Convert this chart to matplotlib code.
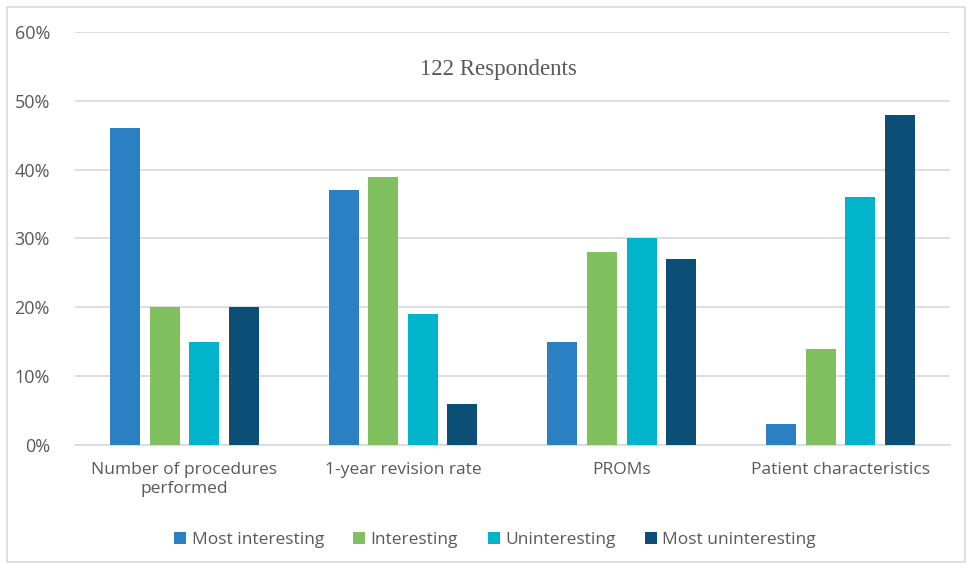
import numpy as np
import matplotlib.pyplot as plt
from matplotlib.patches import Rectangle
from matplotlib.ticker import PercentFormatter

categories = ['Number of procedures\nperformed', '1-year revision rate', 'PROMs', 'Patient characteristics']
series_names = ['Most interesting', 'Interesting', 'Uninteresting', 'Most uninteresting']
most_interesting = [46, 37, 15, 3]
interesting = [20, 39, 28, 14]
uninteresting = [15, 19, 30, 36]
most_uninteresting = [20, 6, 27, 48]
colors = ['#2a80c2', '#80c05f', '#00b4cc', '#0b4f76']

plt.rcParams['font.family'] = ['Open Sans', 'DejaVu Sans']

fig = plt.figure(figsize=(9.71, 5.69), dpi=100)
ax = fig.add_axes([0.0772, 0.218, 0.901, 0.7258])

x = np.arange(len(categories))
width = 0.137
step = 0.181
all_series = [most_interesting, interesting, uninteresting, most_uninteresting]
for i, (name, vals) in enumerate(zip(series_names, all_series)):
    ax.bar(x + (i - 1.5) * step, vals, width, color=colors[i], label=name, zorder=3)

ax.set_xlim(-0.5, 3.5)
ax.set_ylim(0, 60)
ax.set_yticks(range(0, 61, 10))
ax.yaxis.set_major_formatter(PercentFormatter(decimals=0))
ax.grid(axis='y', color='#d9d9d9', linewidth=1.2, zorder=0)
ax.set_xticks(x)
ax.set_xticklabels(categories, fontsize=12.5, color='#595959', linespacing=1.3)
ax.tick_params(axis='y', labelsize=13, labelcolor='#595959', length=0, pad=18)
ax.tick_params(axis='x', length=0, pad=12)
for s in ['top', 'right', 'left']:
    ax.spines[s].set_visible(False)
ax.spines['bottom'].set_color('#d9d9d9')
ax.spines['bottom'].set_linewidth(1.2)

fig.text(498 / 971, 1 - 70 / 569, '122 Respondents', ha='center', va='center',
         fontsize=16.5, family='Liberation Serif', color='#595959')

fig.legend(loc='center', bbox_to_anchor=(495 / 971, 1 - 540 / 569), ncol=4, frameon=False,
           fontsize=12.5, labelcolor='#595959', handlelength=0.7, handleheight=0.7,
           handletextpad=0.3, columnspacing=1.7)

fig.patches.append(Rectangle((7 / 971, 1 - 562 / 569), 958 / 971, 555 / 569,
                             transform=fig.transFigure, fill=False, edgecolor='#d9d9d9', linewidth=1.2))

fig.savefig('out.png', dpi=100)
